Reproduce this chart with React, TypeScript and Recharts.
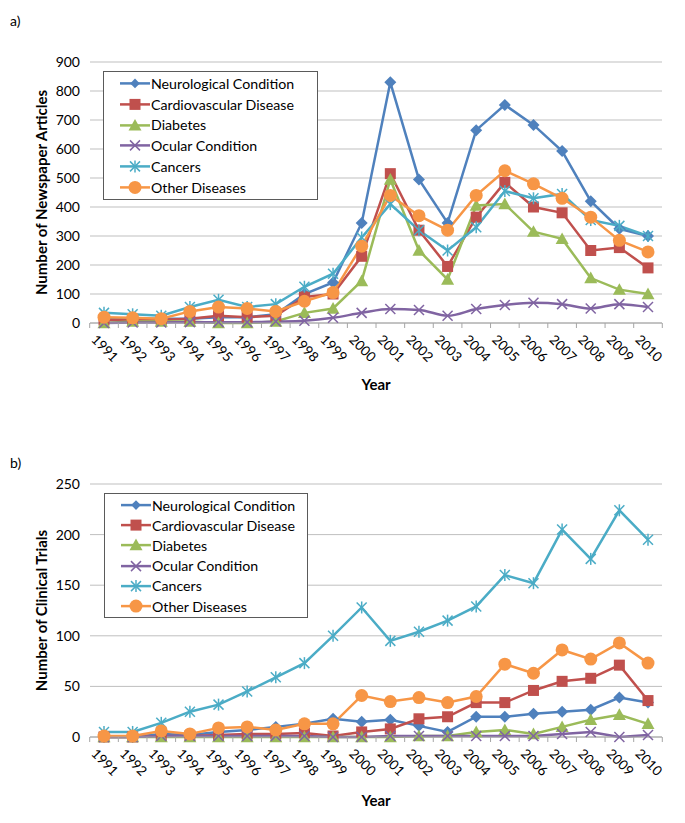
import React from 'react'
import { LineChart, Line, XAxis, YAxis, CartesianGrid, Legend } from 'recharts'

const years = ['1991', '1992', '1993', '1994', '1995', '1996', '1997', '1998', '1999', '2000', '2001', '2002', '2003', '2004', '2005', '2006', '2007', '2008', '2009', '2010']

// a) newspaper articles
const newsNeuro = [15, 15, 15, 15, 20, 20, 30, 100, 140, 345, 830, 495, 345, 665, 752, 683, 593, 420, 325, 300]
const newsCardio = [10, 10, 10, 15, 25, 20, 25, 90, 100, 230, 515, 320, 195, 365, 485, 400, 380, 250, 260, 190]
const newsDiabetes = [0, 5, 5, 5, 0, 0, 5, 35, 50, 145, 495, 250, 150, 405, 410, 315, 290, 155, 115, 100]
const newsOcular = [0, 2, 2, 3, 3, 3, 5, 8, 18, 35, 48, 45, 25, 48, 62, 70, 65, 50, 65, 55]
const newsCancers = [35, 30, 25, 55, 80, 55, 65, 125, 170, 295, 410, 320, 250, 330, 455, 430, 445, 355, 335, 300]
const newsOther = [20, 18, 15, 40, 55, 50, 40, 75, 105, 265, 440, 370, 320, 440, 525, 480, 430, 365, 285, 245]
const newsTicks = [0, 100, 200, 300, 400, 500, 600, 700, 800, 900]

// b) clinical trials
const trialNeuro = [0, 0, 3, 2, 5, 7, 10, 13, 18, 15, 17, 11, 5, 20, 20, 23, 25, 27, 39, 34]
const trialCardio = [0, 0, 1, 1, 2, 3, 3, 4, 1, 5, 8, 18, 20, 34, 34, 46, 55, 58, 71, 36]
const trialDiabetes = [0, 0, 0, 0, 0, 0, 0, 0, 0, 0, 0, 1, 1, 5, 7, 3, 10, 17, 22, 13]
const trialOcular = [0, 0, 1, 1, 1, 1, 1, 1, 0, 0, 1, 1, 1, 1, 1, 1, 3, 5, 0, 2]
const trialCancers = [5, 5, 14, 25, 32, 45, 59, 73, 100, 128, 95, 104, 115, 129, 160, 152, 205, 176, 224, 195]
const trialOther = [1, 1, 6, 3, 9, 10, 7, 13, 13, 41, 35, 39, 34, 40, 72, 63, 86, 77, 93, 73]
const trialTicks = [0, 50, 100, 150, 200, 250]

const FONT = 'Lato, "Open Sans", sans-serif'
const BAND = 28.6

const series = [
  { key: 'neuro', name: 'Neurological Condition', color: '#4F81BD', shape: 'diamond' },
  { key: 'cardio', name: 'Cardiovascular Disease', color: '#C0504D', shape: 'square' },
  { key: 'diabetes', name: 'Diabetes', color: '#9BBB59', shape: 'triangle' },
  { key: 'ocular', name: 'Ocular Condition', color: '#8064A2', shape: 'x' },
  { key: 'cancers', name: 'Cancers', color: '#4BACC6', shape: 'star' },
  { key: 'other', name: 'Other Diseases', color: '#F79646', shape: 'circle' },
]

const newsData = years.map((y, i) => ({
  year: y, neuro: newsNeuro[i], cardio: newsCardio[i], diabetes: newsDiabetes[i],
  ocular: newsOcular[i], cancers: newsCancers[i], other: newsOther[i],
}))
const trialData = years.map((y, i) => ({
  year: y, neuro: trialNeuro[i], cardio: trialCardio[i], diabetes: trialDiabetes[i],
  ocular: trialOcular[i], cancers: trialCancers[i], other: trialOther[i],
}))

function Marker({ shape, cx, cy, color, small }: any) {
  if (cx == null || cy == null) return null
  const k = small ? 0.8 : 1
  switch (shape) {
    case 'diamond': {
      const s = 6 * k
      return <polygon points={`${cx},${cy - s} ${cx + s},${cy} ${cx},${cy + s} ${cx - s},${cy}`} fill={color} />
    }
    case 'square': {
      const s = 5.5 * k
      return <rect x={cx - s} y={cy - s} width={s * 2} height={s * 2} fill={color} />
    }
    case 'triangle': {
      const s = 6.5 * k
      return <polygon points={`${cx},${cy - s} ${cx + s},${cy + s * 0.8} ${cx - s},${cy + s * 0.8}`} fill={color} />
    }
    case 'x': {
      const s = 5 * k
      return (
        <g stroke={color} strokeWidth={1.5}>
          <line x1={cx - s} y1={cy - s} x2={cx + s} y2={cy + s} />
          <line x1={cx - s} y1={cy + s} x2={cx + s} y2={cy - s} />
        </g>
      )
    }
    case 'star': {
      const s = 5 * k
      return (
        <g stroke={color} strokeWidth={1.5}>
          <line x1={cx - s} y1={cy - s} x2={cx + s} y2={cy + s} />
          <line x1={cx - s} y1={cy + s} x2={cx + s} y2={cy - s} />
          <line x1={cx} y1={cy - s - 1} x2={cx} y2={cy + s + 1} />
        </g>
      )
    }
    default:
      return <circle cx={cx} cy={cy} r={6.5 * k} fill={color} />
  }
}

function YearTick({ x, y, payload, index }: any) {
  const tx = x - 10
  const ty = y + 14
  const half = BAND / 2
  return (
    <g>
      <line x1={x - half} y1={y} x2={x - half} y2={y + 5} stroke="#A6A6A6" />
      {index === years.length - 1 && <line x1={x + half} y1={y} x2={x + half} y2={y + 5} stroke="#A6A6A6" />}
      <text x={tx} y={ty} transform={`rotate(45 ${tx} ${ty})`} fontSize={13.5} fontFamily={FONT} fill="#000" textAnchor="start" dominantBaseline="central">
        {payload.value}
      </text>
    </g>
  )
}

function LegendBox({ width, rowH, sample }: any) {
  return (
    <div style={{ border: '1px solid #5a5a5a', background: '#fff', width, padding: '1px 0', boxSizing: 'border-box' }}>
      {series.map(s => (
        <div key={s.key} style={{ display: 'flex', alignItems: 'center', height: rowH }}>
          <svg width={sample + 17} height={rowH} style={{ display: 'block' }}>
            <line x1={16} y1={rowH / 2} x2={16 + sample} y2={rowH / 2} stroke={s.color} strokeWidth={2.5} />
            <Marker shape={s.shape} cx={16 + sample / 2} cy={rowH / 2} color={s.color} small={s.shape === 'diamond'} />
          </svg>
          <span style={{ fontFamily: FONT, fontSize: 14.2, color: '#000', whiteSpace: 'nowrap' }}>{s.name}</span>
        </div>
      ))}
    </div>
  )
}

function Panel({ data, ticks, max, height, title, legendPos, legendW, legendRow, smoothOcular, yearDy }: any) {
  return (
    <LineChart width={685} height={height} data={data} margin={{ top: 62, right: 23, left: 30, bottom: 7 }}>
      <CartesianGrid vertical={false} stroke="#BFBFBF" strokeWidth={1} />
      <XAxis
        dataKey="year"
        interval={0}
        tickLine={false}
        tickSize={0}
        tickMargin={0}
        axisLine={{ stroke: '#A6A6A6' }}
        tick={<YearTick />}
        height={70}
        padding={{ left: 14, right: 14 }}
        label={{
          content: ({ viewBox }: any) => (
            <text x={viewBox.x + viewBox.width / 2} y={viewBox.y + yearDy} textAnchor="middle" fontFamily={FONT} fontWeight="bold" fontSize={15}>Year</text>
          ),
        }}
      />
      <YAxis
        domain={[0, max]}
        ticks={ticks}
        interval={0}
        width={60}
        axisLine={false}
        tickLine={false}
        tickSize={0}
        tickMargin={10}
        tick={{ fontSize: 14, fontFamily: FONT, fill: '#000' }}
        label={{
          content: ({ viewBox }: any) => {
            const cx = 41
            const cy = viewBox.y + viewBox.height / 2
            return (
              <text x={cx} y={cy} transform={`rotate(-90 ${cx} ${cy})`} textAnchor="middle" dominantBaseline="central" fontFamily={FONT} fontWeight="bold" fontSize={15}>{title}</text>
            )
          },
        }}
      />
      <Legend
        layout="vertical"
        align="center"
        verticalAlign="middle"
        wrapperStyle={{ left: legendPos[0], top: legendPos[1], width: legendW }}
        content={() => <LegendBox width={legendW} rowH={legendRow} sample={30} />}
      />
      {series.map(s => (
        <Line
          key={s.key}
          type={s.key === 'ocular' && smoothOcular ? 'monotone' : 'linear'}
          dataKey={s.key}
          name={s.name}
          stroke={s.color}
          strokeWidth={2.5}
          isAnimationActive={false}
          dot={(p: any) => <Marker key={`${s.key}-${p.index}`} shape={s.shape} cx={p.cx} cy={p.cy} color={s.color} />}
          activeDot={false}
        />
      ))}
    </LineChart>
  )
}

export default function App() {
  return (
    <div style={{ position: 'absolute', left: 0, top: 0, width: 685, height: 823, background: '#fff' }}>
      <div style={{ position: 'absolute', left: 10, top: 12, fontFamily: FONT, fontSize: 14 }}>a)</div>
      <div style={{ position: 'absolute', left: 10, top: 454, fontFamily: FONT, fontSize: 14 }}>b)</div>
      <div style={{ position: 'absolute', left: 0, top: 0 }}>
        <Panel data={newsData} ticks={newsTicks} max={900} height={400} title="Number of Newspaper Articles"
          legendPos={[103, 71]} legendW={215} legendRow={20.8} smoothOcular yearDy={67} />
      </div>
      <div style={{ position: 'absolute', left: 0, top: 422 }}>
        <Panel data={trialData} ticks={trialTicks} max={250} height={392} title="Number of Clinical Trials"
          legendPos={[104, 71]} legendW={204} legendRow={20.2} yearDy={69} />
      </div>
    </div>
  )
}
